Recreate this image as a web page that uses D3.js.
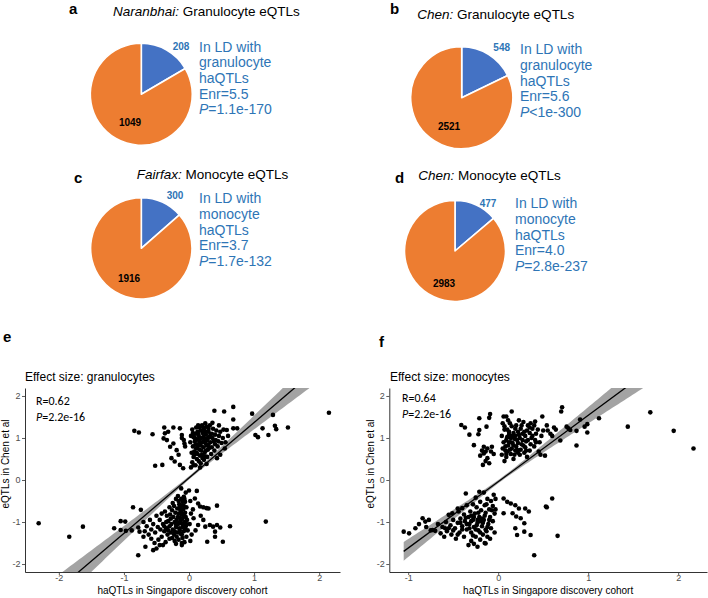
<!DOCTYPE html>
<html><head><meta charset="utf-8">
<script src="https://cdn.jsdelivr.net/npm/d3@7"></script>
<style>body{margin:0;background:#fff}svg{display:block}</style>
</head><body><svg id="c" width="708" height="598"></svg>
<script>
// ---------------- data ----------------
const pieLetters = ["a","b","c","d"];
const pieSources = ["Naranbhai:","Chen:","Fairfax:","Chen:"];
const pieTitles = ["Granulocyte eQTLs","Granulocyte eQTLs","Monocyte eQTLs","Monocyte eQTLs"];
const inLD = [208,548,300,477];
const notInLD = [1049,2521,1916,2983];
const cellTypes = ["granulocyte","granulocyte","monocyte","monocyte"];
const enrichment = ["5.5","5.6","3.7","4.0"];
const pRel = ["=","<","=","="];
const pValues = ["1.1e-170","1e-300","1.7e-132","2.8e-237"];

const axisTicks = [-2,-1,0,1,2];
const scatterLetters = ["e","f"];
const scatterTitles = ["Effect size: granulocytes","Effect size: monocytes"];
const corrR = ["0.62","0.64"];
const corrP = ["2.2e-16","2.2e-16"];
const xAxisTitle = "haQTLs in Singapore discovery cohort";
const yAxisTitle = "eQTLs in Chen et al";

// regression fits: [intercept, slope]; bands: [se at mean, se per unit x, x mean]
const granulocyteFit = [0.05, 1.32];
const granulocyteBand = [0.04, 0.165, 0.03];
const monocyteFit = [-0.04, 1.58];
const monocyteBand = [0.04, 0.2, 0.05];

const granulocytePoints = [
[-2.31,-1.03],[-1.84,-1.35],[-1.63,-1.11],[-1.15,-1.15],[-1.05,-0.98],[-0.98,-0.99],[-1.05,-1.19],[-0.97,-1.21],
[-0.86,-0.65],[-0.74,-0.71],[-0.78,-1.13],[-0.76,-1.23],[-0.70,-1.35],[-0.78,-1.79],[-0.67,-1.59],[-0.55,-1.67],
[-0.50,-1.63],[-0.45,-1.55],[-0.84,1.17],[-0.77,1.13],[-0.56,1.09],[-0.38,1.25],[-0.24,1.25],[-0.52,0.34],[-0.41,0.36],
[0.39,1.65],[0.54,1.63],[0.68,1.74],[0.68,1.44],[0.97,1.58],[1.29,1.55],[1.02,1.07],[1.06,1.02],[1.13,1.23],
[1.22,1.07],[1.32,1.29],[1.34,1.21],[1.52,1.25],[2.15,1.6],[1.18,-0.99],[0.58,1.19],[0.68,1.23],[0.74,1.23],
[0.55,0.75],[0.48,0.6],[0.43,0.52],
[-0.37,1.11],[-0.34,0.95],[-0.29,0.79],[-0.24,0.87],[-0.19,0.71],[-0.16,0.6],[-0.27,0.52],[-0.22,0.44],[-0.14,0.36],
[-0.09,0.28],[-0.39,0.99],[-0.32,1.15],[-0.11,1.0],[-0.07,0.87],[-0.14,1.23],[-0.11,1.07],[-0.06,0.8],[-0.08,0.95],
[0.05,0.42],[0.07,0.55],[0.08,0.68],[0.06,0.8],[0.09,0.92],[0.07,1.02],[0.1,1.1],[0.05,1.2],[0.12,0.5],[0.13,0.62],
[0.11,0.75],[0.14,0.85],[0.12,0.97],[0.15,1.05],[0.13,1.15],[0.16,1.25],[0.18,0.4],[0.17,0.58],[0.19,0.7],[0.18,0.82],
[0.2,0.9],[0.19,1.0],[0.21,1.12],[0.2,1.3],[0.23,0.48],[0.24,0.65],[0.22,0.78],[0.25,0.88],[0.24,0.98],[0.26,1.08],
[0.23,1.2],[0.27,1.27],[0.28,0.55],[0.29,0.72],[0.3,0.84],[0.28,0.94],[0.31,1.02],[0.3,1.15],[0.32,1.3],[0.34,0.62],
[0.35,0.78],[0.33,0.9],[0.36,1.0],[0.35,1.1],[0.37,1.22],[0.39,0.7],[0.4,0.85],[0.41,0.95],[0.4,1.08],[0.42,1.18],
[0.44,0.8],[0.45,0.92],[0.46,1.05],[0.48,1.15],[0.5,0.88],[0.52,1.0],[0.53,1.2],[0.46,1.3],[0.36,1.36],[0.25,1.35],
[0.14,1.3],[0.03,1.05],[0.02,0.9],[0.04,0.65],[0.1,0.35],[0.27,0.38],[0.03,0.3],[0.17,0.3],[0.6,1.05],[0.56,0.9],
[0.15,0.95],[0.22,1.02],[0.27,0.82],[0.1,0.85],
[0.08,0.6],[0.11,0.65],[0.16,0.72],[0.2,0.6],[0.26,0.7],[0.31,0.76],[0.13,0.8],[0.17,0.9],[0.23,0.92],[0.29,1.0],
[0.09,1.0],[0.14,1.1],[0.18,1.18],[0.25,1.15],[0.33,1.08],[0.11,1.25],[0.22,1.25],[0.3,1.22],[0.06,1.12],[0.38,0.92],
[0.21,0.52],[0.15,0.45],[0.07,0.35],[0.25,0.56],
[-0.05,-0.3],[-0.08,-0.4],[-0.12,-0.45],[-0.06,-0.52],[-0.1,-0.6],[-0.15,-0.58],[-0.04,-0.65],[-0.09,-0.7],[-0.13,-0.72],
[-0.18,-0.68],[-0.06,-0.78],[-0.11,-0.82],[-0.16,-0.8],[-0.21,-0.78],[-0.05,-0.88],[-0.1,-0.92],[-0.14,-0.9],[-0.19,-0.95],
[-0.24,-0.88],[-0.28,-0.92],[-0.07,-1.0],[-0.12,-1.03],[-0.17,-1.05],[-0.22,-1.0],[-0.27,-1.05],[-0.32,-0.98],[-0.05,-1.1],
[-0.1,-1.12],[-0.15,-1.15],[-0.2,-1.12],[-0.25,-1.18],[-0.3,-1.1],[-0.35,-1.15],[-0.08,-1.22],[-0.13,-1.28],[-0.18,-1.25],
[-0.23,-1.3],[-0.28,-1.25],[-0.33,-1.3],[-0.38,-1.22],[-0.1,-1.38],[-0.16,-1.42],[-0.22,-1.45],[-0.3,-1.4],[-0.36,-1.48],
[-0.42,-1.35],[-0.4,-1.05],[-0.45,-0.95],[-0.48,-1.12],[-0.52,-1.25],[-0.55,-1.05],[-0.58,-1.18],[-0.62,-1.3],[-0.6,-0.95],
[-0.65,-1.1],[-0.5,-0.85],[-0.42,-0.8],[-0.37,-0.75],[-0.3,-0.65],[-0.25,-0.55],[-0.2,-0.45],[-0.17,-0.38],[-0.47,-1.42],
[-0.53,-1.5],[-0.4,-1.55],[-0.68,-1.22],[-0.7,-1.0],[-0.88,-1.2],[-0.12,-0.2],[-0.03,-0.95],[-0.02,-1.2],[-0.04,-1.35],
[-0.26,-0.72],[-0.34,-0.85],[-0.44,-1.18],[-0.58,-1.4],[-0.07,-1.48],[-0.11,-1.55],[-0.2,-1.52],
[-0.07,-0.45],[-0.1,-0.52],[-0.14,-0.65],[-0.08,-0.62],[-0.12,-0.78],[-0.17,-0.88],[-0.08,-0.85],[-0.13,-0.97],
[-0.2,-1.05],[-0.09,-1.07],[-0.14,-1.2],[-0.22,-1.22],[-0.06,-1.18],[-0.11,-1.3],[-0.19,-1.35],[-0.26,-1.38],
[-0.32,-1.2],[-0.38,-1.1],[-0.35,-1.0],[-0.29,-0.82],[-0.23,-0.62],[-0.16,-0.5],[-0.04,-1.05],[-0.15,-1.02],
[0.0,-0.25],[0.02,-0.5],[0.03,-0.8],[0.01,-1.05],[0.04,-1.3],[0.12,-0.26],[0.09,-0.44],[0.14,-0.56],[0.17,-0.63],
[0.22,-0.65],[0.27,-0.67],[0.3,-0.68],[0.43,-0.61],[0.07,-0.91],[0.14,-1.07],[0.22,-0.95],[0.25,-1.11],[0.32,-1.07],
[0.37,-1.11],[0.43,-1.07],[0.48,-1.13],[0.63,-1.1],[0.4,-1.23],[0.4,-1.35],[0.28,-1.47],[0.52,-1.47],[0.06,-0.7],
[0.1,-1.2],[0.18,-0.85],[-0.11,-1.5],[0.02,-1.45]
];

const monocytePoints = [
[-1.05,-1.23],[-0.99,-1.27],[-0.84,-0.91],[-0.81,-0.99],[-0.77,-0.95],[-0.73,-1.19],[-0.7,-1.21],[-0.64,-1.27],
[-0.59,-1.15],[-0.55,-0.83],[-0.51,-0.79],[-0.44,-0.75],[-0.4,-0.67],[-0.36,-0.32],[-0.21,-0.28],[-0.33,-1.55],
[-0.23,-1.59],[-0.14,-1.51],
[0.06,-0.44],[0.1,-0.52],[0.14,-0.56],[0.19,-0.6],[0.23,-0.68],[0.3,-0.68],[0.34,-0.75],[0.06,-0.79],[0.16,-0.79],
[0.2,-0.87],[0.25,-0.91],[0.29,-1.03],[0.19,-1.15],[0.36,-1.31],[0.21,-1.31],[0.29,-1.23],[0.4,-1.79],[0.53,-0.63],
[0.6,-0.44],[0.54,-0.65],[0.66,-1.33],
[-0.41,1.31],[-0.37,1.25],[-0.32,1.08],[-0.21,1.47],[-0.21,1.19],[-0.22,1.09],[-0.1,1.48],[-0.13,1.27],[-0.27,0.83],
[-0.16,0.79],[-0.12,0.75],[-0.07,0.79],[-0.16,0.63],[-0.12,0.52],[-0.17,0.36],[-0.1,0.4],[-0.09,1.57],[0.15,1.63],
[0.06,1.51],[0.09,1.51],[0.49,1.51],[0.41,1.39],
[0.71,1.73],[0.7,1.63],[1.69,1.61],[1.44,1.27],[1.95,1.17],[2.17,0.75],[1.12,1.47],[0.99,1.33],[0.99,1.13],[0.96,1.27],
[0.91,1.44],[0.87,1.17],[0.87,0.82],[0.76,1.27],[0.78,1.23],[0.8,1.19],[0.69,0.94],[0.52,0.58],[0.62,1.25],[0.64,1.2],
[0.55,1.18],[0.58,1.1],[0.6,1.05],[0.54,1.3],
[0.04,0.6],[0.05,0.75],[0.06,0.9],[0.04,1.05],[0.07,1.2],[0.05,1.35],[0.09,0.55],[0.1,0.68],[0.11,0.82],[0.09,0.95],
[0.12,1.08],[0.1,1.2],[0.11,1.42],[0.14,0.62],[0.15,0.75],[0.16,0.88],[0.14,1.0],[0.17,1.12],[0.15,1.28],[0.19,0.7],
[0.2,0.8],[0.21,0.95],[0.19,1.05],[0.22,1.15],[0.2,1.3],[0.24,0.6],[0.25,0.72],[0.26,0.85],[0.24,1.0],[0.27,1.1],
[0.25,1.22],[0.28,1.38],[0.29,0.65],[0.3,0.78],[0.31,0.92],[0.3,1.05],[0.32,1.18],[0.33,1.3],[0.35,0.7],[0.36,0.85],
[0.37,1.0],[0.35,1.12],[0.38,1.22],[0.4,0.8],[0.41,0.95],[0.42,1.1],[0.44,1.2],[0.45,0.68],[0.46,0.9],[0.48,1.05],
[0.5,1.18],[0.47,0.6],[0.07,0.45],[0.17,0.5],[0.32,0.55],[0.13,1.35],[0.23,1.42],[0.36,1.35],[0.08,0.7],[0.18,0.98],
[0.27,0.95],[0.12,0.9],[0.4,1.3],[0.22,0.65],
[0.08,0.8],[0.13,0.72],[0.17,0.82],[0.22,0.88],[0.28,0.82],[0.33,0.95],[0.1,1.02],[0.16,1.05],[0.23,1.08],[0.29,1.15],
[0.12,1.15],[0.19,1.22],[0.26,1.3],[0.35,1.25],[0.07,1.28],[0.21,0.72],[0.14,0.9],[0.38,1.05],[0.42,0.9],[0.31,0.7],
[0.09,0.62],[0.18,0.6],
[-0.18,0.7],[-0.14,0.68],[-0.2,0.58],[-0.08,0.68],[-0.14,0.45],[-0.05,0.62],
[-0.05,-0.35],[-0.08,-0.5],[-0.12,-0.45],[-0.06,-0.62],[-0.1,-0.7],[-0.15,-0.6],[-0.2,-0.52],[-0.04,-0.8],[-0.09,-0.88],
[-0.14,-0.78],[-0.19,-0.72],[-0.24,-0.65],[-0.28,-0.58],[-0.06,-0.98],[-0.11,-1.05],[-0.16,-0.95],[-0.21,-0.88],
[-0.26,-0.8],[-0.31,-0.75],[-0.08,-1.15],[-0.13,-1.22],[-0.18,-1.1],[-0.23,-1.02],[-0.28,-0.95],[-0.33,-0.88],
[-0.38,-0.82],[-0.12,-1.35],[-0.17,-1.3],[-0.22,-1.2],[-0.27,-1.12],[-0.32,-1.05],[-0.37,-0.98],[-0.42,-0.92],
[-0.2,-1.42],[-0.25,-1.35],[-0.3,-1.25],[-0.35,-1.18],[-0.4,-1.1],[-0.45,-1.02],[-0.5,-0.95],[-0.3,-1.45],[-0.38,-1.35],
[-0.43,-1.25],[-0.48,-1.15],[-0.53,-1.08],[-0.58,-1.0],[-0.47,-1.4],[-0.52,-1.3],[-0.57,-1.22],[-0.62,-1.12],
[-0.67,-1.05],[-0.6,-1.35],[-0.16,-0.3],[-0.25,-0.42],[-0.35,-0.6],[-0.45,-0.68],[-0.03,-0.45],[-0.03,-0.7],
[-0.04,-1.25],[-0.15,-1.5],[-0.09,-1.4],[-0.27,-1.52],[-0.75,-1.2],[-0.8,-1.12],[-0.88,-1.05],[-0.92,-1.15],
[-0.2,-0.98],[-0.3,-0.85],[-0.24,-1.08],[-0.14,-1.18],
[-0.22,-0.78],[-0.27,-0.88],[-0.18,-0.92],[-0.23,-0.95],[-0.3,-0.98],[-0.35,-1.05],[-0.17,-1.02],[-0.25,-1.18],
[-0.32,-1.15],[-0.2,-1.25],[-0.28,-1.32],[-0.15,-0.85],[-0.1,-0.95],[-0.12,-1.12],[-0.4,-1.18],[-0.45,-1.3],
[-0.55,-1.15],[-0.36,-0.9],[-0.07,-0.72],[-0.13,-0.58],[-0.42,-1.02],[-0.5,-1.2]
];

// ---------------- drawing ----------------
const svg = d3.select("#c");
const FONT = "'Liberation Sans', Arial, Helvetica, sans-serif";
const BLUE = "#4472c4", ORANGE = "#ed7d31", TEXTBLUE = "#2e75b6";

const pieLayout = [
  {cx:141.3, cy:94.3, r:51,  lx:69,  ly:14,  tx:113,   ty:16,  bx:181,   by:50,  ox:130, oy:126,  dx:199, dy:51.7},
  {cx:461.7, cy:97.7, r:51,  lx:390, ly:14,  tx:417.3, ty:19,  bx:501.7, by:50.7,ox:449, oy:130,  dx:520, dy:54.3},
  {cx:141.3, cy:248.3,r:50.7,lx:74,  ly:183, tx:136.7, ty:179, bx:175,   by:199.3,ox:129,oy:281.7,dx:199, dy:203.3},
  {cx:455,   cy:251,  r:50.5,lx:395, ly:183, tx:418.3, ty:180, bx:488,   by:206.7,ox:444,oy:286.7,dx:515, dy:208.3}
];
const pieGen = d3.pie().sort(null).value(d => d);
const lineStep = 15.6;

pieLayout.forEach((L, i) => {
  const g = svg.append("g");
  const arcs = pieGen([inLD[i], notInLD[i]]);
  const arc = d3.arc().innerRadius(0).outerRadius(L.r);
  g.selectAll("path").data(arcs).join("path")
    .attr("transform", `translate(${L.cx},${L.cy})`)
    .attr("d", arc)
    .attr("fill", (d, j) => j === 0 ? BLUE : ORANGE)
    .attr("stroke", "#fff").attr("stroke-width", 1.6).attr("stroke-linejoin", "round");
  g.append("text").attr("x", L.lx).attr("y", L.ly).text(pieLetters[i])
    .attr("font-family", FONT).attr("font-weight", "bold").attr("font-size", 15).attr("fill", "#000");
  const t = g.append("text").attr("x", L.tx).attr("y", L.ty)
    .attr("font-family", FONT).attr("font-size", 13.5).attr("fill", "#000");
  t.append("tspan").attr("font-style", "italic").text(pieSources[i]);
  t.append("tspan").text(" " + pieTitles[i]);
  g.append("text").attr("x", L.bx).attr("y", L.by).attr("text-anchor", "middle")
    .attr("font-family", FONT).attr("font-weight", "bold").attr("font-size", 10).attr("fill", TEXTBLUE)
    .text(inLD[i]);
  g.append("text").attr("x", L.ox).attr("y", L.oy).attr("text-anchor", "middle")
    .attr("font-family", FONT).attr("font-weight", "bold").attr("font-size", 10).attr("fill", "#000")
    .text(notInLD[i]);
  const lines = ["In LD with", cellTypes[i], "haQTLs", "Enr=" + enrichment[i]];
  lines.forEach((s, k) => {
    g.append("text").attr("x", L.dx).attr("y", L.dy + k * lineStep)
      .attr("font-family", FONT).attr("font-size", 14).attr("fill", TEXTBLUE).text(s);
  });
  const pt = g.append("text").attr("x", L.dx).attr("y", L.dy + 4 * lineStep)
    .attr("font-family", FONT).attr("font-size", 14).attr("fill", TEXTBLUE);
  pt.append("tspan").attr("font-style", "italic").text("P");
  pt.append("tspan").text(pRel[i] + pValues[i]);
});

// scatter panels
const scatterLayout = [
  {x0:25,    x1:340, xDom:[-2.52, 2.32], lx:3,   ly:342, tx:25,  statY:[405,421], statX:36, ylx:8.5},
  {x0:389.3, x1:707, xDom:[-1.21, 2.32], lx:379, ly:347, tx:390, statY:[402,418], statX:402, ylx:373.5}
];
const yTop = 388, yBot = 572, yDom = [-2.19, 2.19];
const pointsSets = [granulocytePoints, monocytePoints];
const fits = [granulocyteFit, monocyteFit];
const bands = [granulocyteBand, monocyteBand];

scatterLayout.forEach((L, i) => {
  const g = svg.append("g");
  const x = d3.scaleLinear().domain(L.xDom).range([L.x0, L.x1]);
  const y = d3.scaleLinear().domain(yDom).range([yBot, yTop]);
  const pts = pointsSets[i];
  const fit = fits[i], band = bands[i];

  const clipId = "clip" + i;
  svg.append("defs").append("clipPath").attr("id", clipId)
    .append("rect").attr("x", L.x0).attr("y", yTop).attr("width", L.x1 - L.x0).attr("height", yBot - yTop);

  const ext = d3.extent(pts, d => d[0]);
  const xs = d3.range(0, 101).map(k => ext[0] + (ext[1] - ext[0]) * k / 100);
  const pred = v => fit[0] + fit[1] * v;
  const hw = v => Math.sqrt(band[0] * band[0] + Math.pow(band[1] * (v - band[2]), 2));

  const plot = g.append("g").attr("clip-path", `url(#${clipId})`);
  plot.append("path").datum(xs)
    .attr("d", d3.area().x(v => x(v)).y0(v => y(pred(v) - hw(v))).y1(v => y(pred(v) + hw(v))))
    .attr("fill", "#999999").attr("opacity", 0.9);
  plot.selectAll("circle").data(pts).join("circle")
    .attr("cx", d => x(d[0])).attr("cy", d => y(d[1])).attr("r", 2.3).attr("fill", "#000");
  plot.append("path").datum(ext)
    .attr("d", d3.line().x(v => x(v)).y(v => y(pred(v))))
    .attr("stroke", "#000").attr("stroke-width", 1.3).attr("fill", "none");

  const ax = g.append("g").attr("transform", `translate(0,${yBot})`)
    .call(d3.axisBottom(x).tickValues(axisTicks.filter(t => t >= L.xDom[0] && t <= L.xDom[1]))
      .tickFormat(d3.format("d")).tickSize(3).tickSizeOuter(0).tickPadding(0));
  const ay = g.append("g").attr("transform", `translate(${L.x0},0)`)
    .call(d3.axisLeft(y).tickValues(axisTicks).tickFormat(d3.format("d")).tickSize(3).tickSizeOuter(0).tickPadding(1.5));
  [ax, ay].forEach(a => {
    a.select(".domain").attr("stroke", "#000").attr("stroke-width", 0.8);
    a.selectAll(".tick line").attr("stroke", "#333").attr("stroke-width", 0.8);
    a.selectAll(".tick text").attr("font-family", FONT).attr("font-size", 9).attr("fill", "#4d4d4d");
  });
  ay.selectAll(".tick text").text(d => d < 0 ? "-" + Math.abs(d) : d);
  ax.selectAll(".tick text").text(d => d < 0 ? "-" + Math.abs(d) : d);

  g.append("text").attr("x", (L.x0 + L.x1) / 2).attr("y", 594).attr("text-anchor", "middle")
    .attr("font-family", FONT).attr("font-size", 10).attr("fill", "#000").text(xAxisTitle);
  g.append("text").attr("transform", `translate(${L.ylx},464) rotate(-90)`).attr("text-anchor", "middle")
    .attr("font-family", FONT).attr("font-size", 10).attr("fill", "#000").text(yAxisTitle);

  g.append("text").attr("x", L.lx).attr("y", L.ly).text(scatterLetters[i])
    .attr("font-family", FONT).attr("font-weight", "bold").attr("font-size", 15).attr("fill", "#000");
  g.append("text").attr("x", L.tx).attr("y", 381).text(scatterTitles[i])
    .attr("font-family", FONT).attr("font-size", 12).attr("fill", "#000");

  const SF = "Carlito, Lato, 'Open Sans', sans-serif";
  g.append("text").attr("x", L.statX).attr("y", L.statY[0]).text("R=" + corrR[i])
    .attr("font-family", SF).attr("font-size", 12).attr("fill", "#000");
  const pp = g.append("text").attr("x", L.statX).attr("y", L.statY[1])
    .attr("font-family", SF).attr("font-size", 12).attr("fill", "#000");
  pp.append("tspan").attr("font-style", "italic").text("P");
  pp.append("tspan").text("=" + corrP[i]);
});
</script>
</body></html>
